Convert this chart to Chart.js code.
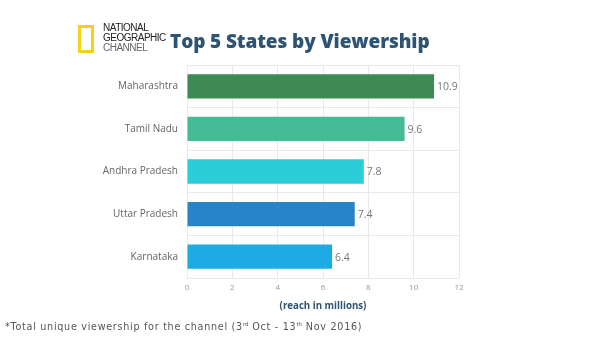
<!DOCTYPE html>
<html><head><meta charset="utf-8">
<script src="https://cdn.jsdelivr.net/npm/chart.js@4"></script>
<style>
html,body{margin:0;padding:0;background:#fff;}
#wrap{position:relative;width:600px;height:337px;overflow:hidden;}
#c{position:absolute;left:0;top:0;}
.logo{position:absolute;left:78px;top:25px;width:10px;height:22px;border:3px solid #f5d11a;}
.lt{position:absolute;left:103px;font-family:"Liberation Sans Narrow","Liberation Sans",Arial,sans-serif;font-size:10px;line-height:10px;letter-spacing:-0.5px;}
#title{position:absolute;left:170px;top:28px;font-family:"Open Sans",sans-serif;font-weight:800;font-size:19px;color:#2e5474;white-space:nowrap;letter-spacing:-0.1px;}
#foot{position:absolute;left:5px;top:321px;font-family:"DejaVu Sans",sans-serif;font-size:9.6px;color:#555;white-space:nowrap;letter-spacing:0.72px;}
#foot sup{font-size:5.5px;vertical-align:4px;line-height:0;letter-spacing:0;}
</style></head>
<body><div id="wrap">
<canvas id="c" width="600" height="337"></canvas>
<div class="logo"></div>
<div class="lt" style="top:23px;color:#222;">NATIONAL</div>
<div class="lt" style="top:33px;color:#222;">GEOGRAPHIC</div>
<div class="lt" style="top:43px;color:#666;">CHANNEL</div>
<div id="title">Top 5 States by Viewership</div>
<div id="foot">*Total unique viewership for the channel (3<sup>rd</sup> Oct - 13<sup>th</sup> Nov 2016)</div>
</div>
<script>
const states = ["Maharashtra","Tamil Nadu","Andhra Pradesh","Uttar Pradesh","Karnataka"];
const reach = [10.9, 9.6, 7.8, 7.4, 6.4];
const barColors = ["#3e8a55","#45bb96","#2bcdd9","#2784c9","#1eabe3"];
const axisTitle = "(reach in millions)";

const valueLabels = {
  id:'valueLabels',
  afterDatasetsDraw(chart){
    const ctx = chart.ctx;
    const meta = chart.getDatasetMeta(0);
    ctx.save();
    ctx.font = '10.5px "Open Sans", sans-serif';
    ctx.fillStyle = '#777';
    ctx.textBaseline = 'middle';
    ctx.textAlign = 'left';
    meta.data.forEach((el,i)=>{
      ctx.fillText(String(reach[i]), el.x + 3, el.y + 1);
    });
    ctx.restore();
  }
};

new Chart(document.getElementById('c'), {
  type:'bar',
  data:{labels:states, datasets:[{data:reach, backgroundColor:barColors, barPercentage:0.57, categoryPercentage:1}]},
  options:{
    indexAxis:'y',
    responsive:false,
    animation:false,
    layout:{padding:{left:0,right:141,top:65,bottom:25}},
    plugins:{legend:{display:false}, tooltip:{enabled:false}},
    scales:{
      x:{
        min:0,max:12,
        ticks:{stepSize:2,padding:5,color:'#999',font:{family:'"Open Sans", sans-serif',size:8}},
        grid:{color:'#e9e9e9',drawTicks:false},
        border:{display:false},
        title:{display:true,text:axisTitle,color:'#2e5474',font:{family:'"Open Sans", sans-serif',size:9.7,weight:'bold'},padding:{top:0,bottom:0}},
        afterFit(s){ s.height = 34; }
      },
      y:{
        ticks:{padding:9,color:'#666',font:{family:'"Open Sans", sans-serif',size:10}},
        grid:{color:'#e9e9e9',drawTicks:false,offset:true},
        border:{display:false},
        afterFit(s){ s.width = 187; }
      }
    }
  },
  plugins:[valueLabels]
});
</script>
</body></html>
